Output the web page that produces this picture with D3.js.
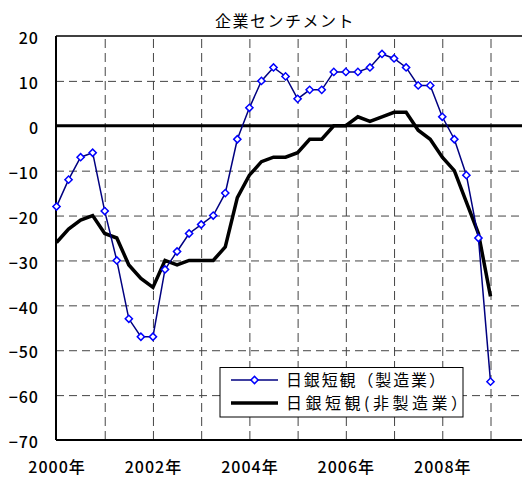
<!DOCTYPE html>
<html>
<head>
<meta charset="utf-8">
<script src="https://cdn.jsdelivr.net/npm/d3@7"></script>
<style>
  body { margin: 0; background: #fff; }
  text { font-family: "Noto Sans CJK JP", "Noto Sans", sans-serif; fill: #000; }
  .tick text { font-weight: 500; }
</style>
</head>
<body>
<div class="chart"></div>
<script>
// quarterly Tankan DI, Mar 2000 .. Mar 2009
var quarters = d3.range(37);
var manufacturing = [-18, -12, -7, -6, -19, -30, -43, -47, -47, -32, -28, -24, -22, -20, -15, -3,
  4, 10, 13, 11, 6, 8, 8, 12, 12, 12, 13, 16, 15, 13, 9, 9, 2, -3, -11, -25, -57];
var nonManufacturing = [-26, -23, -21, -20, -24, -25, -31, -34, -36, -30, -31, -30, -30, -30, -27, -16,
  -11, -8, -7, -7, -6, -3, -3, 0, 0, 2, 1, 2, 3, 3, -1, -3, -7, -10, -17, -24, -38];
var yTicks = [20, 10, 0, -10, -20, -30, -40, -50, -60, -70];
var yearTicks = [0, 8, 16, 24, 32];
var yearLabels = ["2000年", "2002年", "2004年", "2006年", "2008年"];
var seriesNames = ["日銀短観（製造業）", "日銀短観(非製造業）"];
var title = "企業センチメント";

var svgWidth = 522;
var svgHeight = 477;

var margin = {
  top: 36,
  right: 0,
  bottom: 37,
  left: 56
};

var width = svgWidth - margin.left - margin.right;
var height = svgHeight - margin.top - margin.bottom;

var svg = d3.select(".chart")
  .append("svg")
  .attr("width", svgWidth)
  .attr("height", svgHeight)
  .style("display", "block");

var chartGroup = svg.append("g")
  .attr("transform", `translate(${margin.left}, ${margin.top})`);

// scales
var xScale = d3.scaleLinear()
  .domain([0, 36])
  .range([0.5, 434.5]);

var yScale = d3.scaleLinear()
  .domain([-70, 20])
  .range([height, 0]);

// horizontal gridlines
chartGroup.append("g")
  .call(d3.axisLeft(yScale)
    .tickValues(yTicks.filter(d => d > -70 && d < 20 && d !== 0))
    .tickSize(-width)
    .tickFormat(""))
  .call(g => g.select(".domain").remove())
  .selectAll("line")
  .attr("stroke", "#444")
  .attr("stroke-dasharray", "8,5");

// vertical gridlines, one per year
chartGroup.append("g")
  .call(d3.axisBottom(xScale)
    .tickValues(d3.range(4, 44, 4))
    .tickSize(-height)
    .tickFormat(""))
  .attr("transform", `translate(0, ${height})`)
  .call(g => g.select(".domain").remove())
  .selectAll("line")
  .attr("stroke", "#444")
  .attr("stroke-dasharray", "9,5");

// zero line
chartGroup.append("line")
  .attr("x1", 0)
  .attr("x2", width)
  .attr("y1", yScale(0))
  .attr("y2", yScale(0))
  .attr("stroke", "#000")
  .attr("stroke-width", 3);

// plot border: top, left, bottom
chartGroup.append("line")
  .attr("x1", 0).attr("x2", width)
  .attr("y1", 0).attr("y2", 0)
  .attr("stroke", "#000")
  .attr("stroke-width", 1.5);

chartGroup.append("line")
  .attr("x1", 0).attr("x2", width)
  .attr("y1", height).attr("y2", height)
  .attr("stroke", "#000")
  .attr("stroke-width", 2);

chartGroup.append("line")
  .attr("x1", 0).attr("x2", 0)
  .attr("y1", 0).attr("y2", height)
  .attr("stroke", "#000")
  .attr("stroke-width", 2);

// y axis labels
chartGroup.append("g")
  .call(d3.axisLeft(yScale)
    .tickValues(yTicks)
    .tickSize(0)
    .tickPadding(17))
  .call(g => g.select(".domain").remove())
  .selectAll("text")
  .attr("dy", "0.48em")
  .attr("font-size", 16)
  .attr("letter-spacing", 1)
  .attr("font-family", null);

// x axis labels
chartGroup.append("g")
  .attr("transform", `translate(0, ${height})`)
  .call(d3.axisBottom(xScale)
    .tickValues(yearTicks)
    .tickSize(0)
    .tickFormat((d, i) => yearLabels[i]))
  .call(g => g.select(".domain").remove())
  .selectAll("text")
  .attr("y", 33)
  .attr("dy", 0)
  .attr("font-size", 16)
  .attr("letter-spacing", 1)
  .attr("font-family", null);

// lines
var line = d3.line()
  .x((d, i) => xScale(quarters[i]))
  .y(d => yScale(d));

chartGroup.append("path")
  .datum(nonManufacturing)
  .attr("d", line)
  .attr("fill", "none")
  .attr("stroke", "#000")
  .attr("stroke-width", 3.5);

chartGroup.append("path")
  .datum(manufacturing)
  .attr("d", line)
  .attr("fill", "none")
  .attr("stroke", "#000080")
  .attr("stroke-width", 1.5);

var diamond = d3.symbol().type(d3.symbolSquare).size(26);

chartGroup.append("g")
  .selectAll("path")
  .data(manufacturing)
  .enter()
  .append("path")
  .attr("d", diamond)
  .attr("transform", (d, i) => `translate(${xScale(quarters[i])}, ${yScale(d)}) rotate(45)`)
  .attr("fill", "#fff")
  .attr("stroke", "#0000ff")
  .attr("stroke-width", 1.5);

// title
svg.append("text")
  .attr("x", 285)
  .attr("y", 27)
  .attr("text-anchor", "middle")
  .attr("font-size", 16)
  .attr("letter-spacing", 1.5)
  .text(title);

// legend
var legend = svg.append("g")
  .attr("transform", "translate(220, 367.5)");

legend.append("rect")
  .attr("width", 243)
  .attr("height", 49.5)
  .attr("fill", "#fff")
  .attr("stroke", "#000")
  .attr("stroke-width", 1);

var rows = [
  { color: "#000080", width: 1.5, marker: true, len: 159 },
  { color: "#000", width: 3.5, marker: false, len: 181 }
];

rows.forEach(function (r, i) {
  var cy = 12.5 + i * 23;
  legend.append("line")
    .attr("x1", 11).attr("x2", 58)
    .attr("y1", cy).attr("y2", cy)
    .attr("stroke", r.color)
    .attr("stroke-width", r.width);
  if (r.marker) {
    legend.append("path")
      .attr("d", diamond)
      .attr("transform", `translate(34.5, ${cy}) rotate(45)`)
      .attr("fill", "#fff")
      .attr("stroke", "#0000ff")
      .attr("stroke-width", 1.5);
  }
  legend.append("text")
    .attr("x", 66)
    .attr("y", cy + 6)
    .attr("font-size", 16)
    .attr("textLength", r.len)
    .attr("lengthAdjust", "spacing")
    .text(seriesNames[i]);
});
</script>
</body>
</html>
